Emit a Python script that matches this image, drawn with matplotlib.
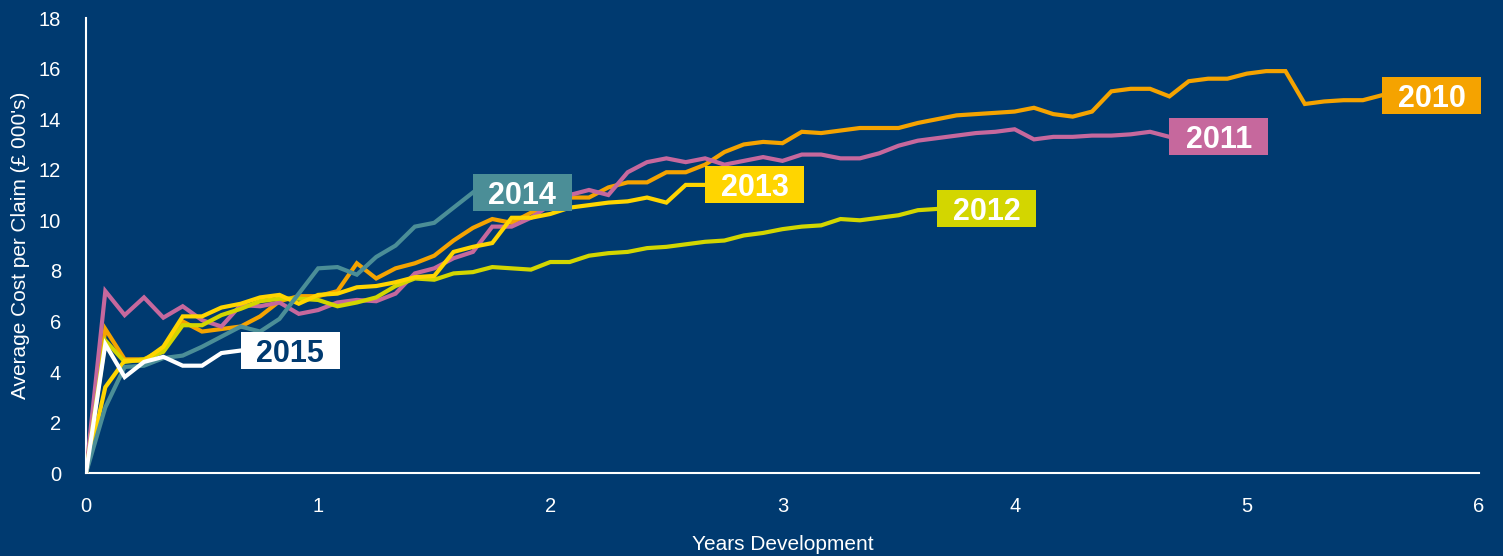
import matplotlib.pyplot as plt
from matplotlib.patches import Rectangle

plt.rcParams['font.family'] = ['Liberation Sans', 'DejaVu Sans']

#======================== data (monthly, years of development) ========================
years = ['2010', '2011', '2012', '2013', '2014', '2015']

cost_2010 = [0, 5.7, 4.5, 4.5, 4.9, 6.0, 5.6, 5.7, 5.8, 6.2, 6.8, 7.0, 7.0, 7.2, 8.3, 7.7,
             8.1, 8.3, 8.6, 9.2, 9.7, 10.05, 9.9, 10.3, 10.6, 10.9, 10.9, 11.3, 11.5, 11.5,
             11.9, 11.9, 12.2, 12.7, 13.0, 13.1, 13.05, 13.5, 13.45, 13.55, 13.65, 13.65,
             13.65, 13.85, 14.0, 14.15, 14.2, 14.25, 14.3, 14.45, 14.2, 14.1, 14.3, 15.1,
             15.2, 15.2, 14.9, 15.5, 15.6, 15.6, 15.8, 15.9, 15.9, 14.6, 14.7, 14.75, 14.75,
             14.95]
cost_2011 = [0, 7.2, 6.25, 6.95, 6.15, 6.6, 6.05, 5.8, 6.65, 6.6, 6.75, 6.3, 6.45, 6.75,
             6.85, 6.8, 7.1, 7.9, 8.1, 8.5, 8.75, 9.75, 9.75, 10.1, 10.6, 11.0, 11.2, 11.0,
             11.9, 12.3, 12.45, 12.3, 12.45, 12.2, 12.35, 12.5, 12.35, 12.6, 12.6, 12.45,
             12.45, 12.65, 12.95, 13.15, 13.25, 13.35, 13.45, 13.5, 13.6, 13.2, 13.3, 13.3,
             13.35, 13.35, 13.4, 13.5, 13.3]
cost_2012 = [0, 5.25, 4.4, 4.5, 4.8, 5.85, 5.85, 6.25, 6.5, 6.8, 6.9, 6.9, 6.85, 6.6, 6.75,
             6.95, 7.4, 7.7, 7.65, 7.9, 7.95, 8.15, 8.1, 8.05, 8.35, 8.35, 8.6, 8.7, 8.75,
             8.9, 8.95, 9.05, 9.15, 9.2, 9.4, 9.5, 9.65, 9.75, 9.8, 10.05, 10.0, 10.1, 10.2,
             10.4, 10.45]
cost_2013 = [0, 3.4, 4.45, 4.45, 5.0, 6.2, 6.2, 6.55, 6.7, 6.95, 7.05, 6.7, 7.05, 7.1, 7.35,
             7.4, 7.55, 7.75, 7.8, 8.75, 8.95, 9.1, 10.1, 10.1, 10.25, 10.5, 10.6, 10.7,
             10.75, 10.9, 10.7, 11.4, 11.4]
cost_2014 = [0, 2.6, 4.2, 4.25, 4.55, 4.65, 5.0, 5.4, 5.8, 5.6, 6.1, 7.1, 8.1, 8.15, 7.85,
             8.55, 9.0, 9.75, 9.9, 10.5, 11.1]
cost_2015 = [0, 5.1, 3.8, 4.4, 4.6, 4.25, 4.25, 4.75, 4.85]

series = [cost_2010, cost_2011, cost_2012, cost_2013, cost_2014, cost_2015]
colors = ['#f5a300', '#c6689d', '#d3d600', '#ffd500', '#4b8e97', '#ffffff']
label_text = ['white', 'white', 'white', 'white', 'white', '#003a70']

bg = '#003a70'

fig = plt.figure(figsize=(15.03, 5.56), dpi=100, facecolor=bg)
ax = fig.add_axes([0.0572, 0.149, 0.9268, 0.8186])
ax.set_facecolor(bg)

for name, vals, col, tcol in zip(years, series, colors, label_text):
    xs = [m / 12 for m in range(len(vals))]
    ax.plot(xs, vals, color=col, lw=3, solid_joinstyle='miter', zorder=3)
    # label box sitting at the end of each line
    bw, bh = 0.426, 1.46
    ax.add_patch(Rectangle((xs[-1], vals[-1] - bh / 2), bw, bh, facecolor=col,
                           edgecolor='none', zorder=4, clip_on=False))
    ax.text(xs[-1] + bw / 2, vals[-1], name, color=tcol, fontsize=22, fontweight='bold',
            ha='center', va='center_baseline', zorder=5)

ax.set_xlim(0, 6)
ax.set_ylim(0, 18)
ax.set_xticks(range(0, 7))
ax.set_yticks(range(0, 19, 2))
for s in ['top', 'right']:
    ax.spines[s].set_visible(False)
for s in ['left', 'bottom']:
    ax.spines[s].set_color('white')
    ax.spines[s].set_linewidth(1.5)
ax.tick_params(axis='both', colors='white', labelsize=14.5, length=0)
ax.tick_params(axis='y', pad=18)
ax.tick_params(axis='x', pad=17)

ax.set_xlabel('Years Development', color='white', fontsize=15, labelpad=14)
ax.set_ylabel("Average Cost per Claim (£ 000's)", color='white', fontsize=15, labelpad=6)

plt.savefig('out.png', dpi=100, facecolor=bg)
